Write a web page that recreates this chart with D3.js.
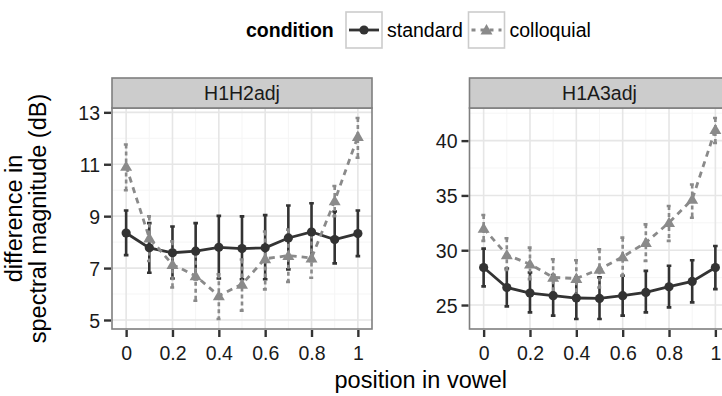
<!DOCTYPE html>
<html>
<head>
<meta charset="utf-8">
<script src="https://cdn.jsdelivr.net/npm/d3@7"></script>
<style>
  body { margin: 0; background: #fff; overflow: hidden; }
  svg { display: block; font-family: "Liberation Sans", Arial, sans-serif; }
</style>
</head>
<body>
<div id="chart"></div>
<script>
// position in vowel
var positions = [0, 0.1, 0.2, 0.3, 0.4, 0.5, 0.6, 0.7, 0.8, 0.9, 1];
var conditions = ['standard', 'colloquial'];
var panels = ['H1H2adj', 'H1A3adj'];

// H1H2adj: mean, lower, upper
var h1h2Standard = [8.35, 7.78, 7.59, 7.65, 7.8, 7.75, 7.78, 8.16, 8.39, 8.1, 8.33];
var h1h2StandardLo = [7.5, 6.82, 6.6, 6.57, 6.6, 6.57, 6.57, 6.95, 7.27, 7.18, 7.46];
var h1h2StandardHi = [9.22, 8.73, 8.6, 8.73, 9.01, 8.99, 9.04, 9.41, 9.5, 9.18, 9.22];
var h1h2Colloquial = [10.92, 8.16, 7.14, 6.7, 5.93, 6.38, 7.36, 7.48, 7.39, 9.59, 12.07];
var h1h2ColloquialLo = [10.0, 7.27, 6.25, 5.74, 5.04, 5.36, 6.18, 6.47, 6.63, 9.0, 11.25];
var h1h2ColloquialHi = [11.76, 8.99, 8.03, 7.55, 6.76, 7.33, 8.41, 8.48, 8.29, 10.16, 12.78];

// H1A3adj: mean, lower, upper
var h1a3Standard = [28.42, 26.6, 26.09, 25.85, 25.64, 25.6, 25.85, 26.15, 26.67, 27.15, 28.42];
var h1a3StandardLo = [26.7, 24.88, 24.33, 24.03, 23.73, 23.73, 24.03, 24.33, 24.79, 25.24, 26.45];
var h1a3StandardHi = [30.15, 28.33, 27.97, 27.73, 27.52, 27.52, 27.67, 28.12, 28.58, 29.09, 30.39];
var h1a3Colloquial = [32.0, 29.58, 28.73, 27.52, 27.42, 28.27, 29.39, 30.7, 32.52, 34.64, 41.0];
var h1a3ColloquialLo = [30.85, 28.21, 27.36, 26.15, 26.0, 26.6, 27.67, 29.03, 30.85, 32.97, 39.79];
var h1a3ColloquialHi = [33.21, 31.09, 30.24, 29.18, 29.09, 30.09, 31.15, 32.36, 34.03, 36.0, 42.06];

var xTicks = [0, 0.2, 0.4, 0.6, 0.8, 1];
var xTickLabels = ['0', '0.2', '0.4', '0.6', '0.8', '1'];
var yTicksH1H2 = [5, 7, 9, 11, 13];
var yTicksH1A3 = [25, 30, 35, 40];

function rows(mean, lo, hi) {
    return positions.map(function(p, i) { return {x: p, y: mean[i], lo: lo[i], hi: hi[i]}; });
}

var panelData = [
    {name: panels[0], ticks: yTicksH1H2, series: [
        {cond: conditions[0], values: rows(h1h2Standard, h1h2StandardLo, h1h2StandardHi)},
        {cond: conditions[1], values: rows(h1h2Colloquial, h1h2ColloquialLo, h1h2ColloquialHi)}]},
    {name: panels[1], ticks: yTicksH1A3, series: [
        {cond: conditions[0], values: rows(h1a3Standard, h1a3StandardLo, h1a3StandardHi)},
        {cond: conditions[1], values: rows(h1a3Colloquial, h1a3ColloquialLo, h1a3ColloquialHi)}]}
];

var W = 722, H = 396;
var panelTop = 108, panelBottom = 329, stripH = 30, panelW = 260;
var panelLefts = [112, 469.5];
var capW = 0.02;

var color = d3.scaleOrdinal().domain(conditions).range(['#333333', '#8a8a8a']);
var dash = d3.scaleOrdinal().domain(conditions).range([null, '6,5']);
var barDash = d3.scaleOrdinal().domain(conditions).range([null, '4,3']);

var svg = d3.select('#chart').append('svg')
    .attr('width', W)
    .attr('height', H);

// x range padded by the error bar caps, then expanded 5% (ggplot style)
var x = d3.scaleLinear().domain([-capW / 2, 1 + capW / 2]);
var xd = x.domain(), xr = xd[1] - xd[0];
x.domain([xd[0] - 0.05 * xr, xd[1] + 0.05 * xr]).range([0, panelW]);

var ph = panelBottom - panelTop;
var tri = d3.symbol().type(d3.symbolTriangle).size(62);

panelData.forEach(function(pd, k) {
    var all = [];
    pd.series.forEach(function(s) { s.values.forEach(function(d) { all.push(d.lo, d.hi); }); });
    var ext = d3.extent(all), r = ext[1] - ext[0];
    var y = d3.scaleLinear().domain([ext[0] - 0.05 * r, ext[1] + 0.05 * r]).range([ph, 0]);

    var g = svg.append('g')
        .attr('transform', 'translate(' + panelLefts[k] + ',' + panelTop + ')');

    // grid, minor then major
    var yMinor = [];
    var step = pd.ticks[1] - pd.ticks[0];
    for (var i = 0; i <= pd.ticks.length; i++) {
        var v = pd.ticks[0] + (i - 0.5) * step;
        if (v > y.domain()[0] && v < y.domain()[1]) yMinor.push(v);
    }
    var xMinor = [0.1, 0.3, 0.5, 0.7, 0.9];

    g.append('rect').attr('width', panelW).attr('height', ph).attr('fill', '#fff');

    g.selectAll('.minor-y').data(yMinor).enter().append('line')
        .attr('x1', 0).attr('x2', panelW)
        .attr('y1', y).attr('y2', y)
        .attr('stroke', '#f5f5f5').attr('stroke-width', 1);
    g.selectAll('.minor-x').data(xMinor).enter().append('line')
        .attr('y1', 0).attr('y2', ph)
        .attr('x1', x).attr('x2', x)
        .attr('stroke', '#f5f5f5').attr('stroke-width', 1);
    g.selectAll('.major-y').data(pd.ticks).enter().append('line')
        .attr('x1', 0).attr('x2', panelW)
        .attr('y1', y).attr('y2', y)
        .attr('stroke', '#e6e6e6').attr('stroke-width', 1.6);
    g.selectAll('.major-x').data(xTicks).enter().append('line')
        .attr('y1', 0).attr('y2', ph)
        .attr('x1', x).attr('x2', x)
        .attr('stroke', '#e6e6e6').attr('stroke-width', 1.6);

    // error bars
    pd.series.forEach(function(s) {
        var eb = g.append('g')
            .attr('stroke', color(s.cond))
            .attr('stroke-width', 2.6)
            .attr('stroke-dasharray', barDash(s.cond))
            .attr('fill', 'none');
        eb.selectAll('path').data(s.values).enter().append('path')
            .attr('d', function(d) {
                var x0 = x(d.x - capW / 2), x1 = x(d.x + capW / 2), xc = x(d.x);
                return 'M' + x0 + ',' + y(d.hi) + 'H' + x1 +
                    'M' + xc + ',' + y(d.hi) + 'V' + y(d.lo) +
                    'M' + x0 + ',' + y(d.lo) + 'H' + x1;
            });
    });

    // lines
    var line = d3.line().x(function(d) { return x(d.x); }).y(function(d) { return y(d.y); });
    pd.series.forEach(function(s) {
        g.append('path')
            .datum(s.values)
            .attr('d', line)
            .attr('fill', 'none')
            .attr('stroke', color(s.cond))
            .attr('stroke-width', 2.8)
            .attr('stroke-dasharray', dash(s.cond));
    });

    // points
    pd.series.forEach(function(s) {
        if (s.cond === 'standard') {
            g.selectAll('.pt-std').data(s.values).enter().append('circle')
                .attr('cx', function(d) { return x(d.x); })
                .attr('cy', function(d) { return y(d.y); })
                .attr('r', 4.6)
                .attr('fill', color(s.cond));
        } else {
            g.selectAll('.pt-col').data(s.values).enter().append('path')
                .attr('transform', function(d) { return 'translate(' + x(d.x) + ',' + (y(d.y) + 1) + ')'; })
                .attr('d', tri)
                .attr('fill', color(s.cond));
        }
    });

    // panel border
    g.append('rect').attr('width', panelW).attr('height', ph)
        .attr('fill', 'none').attr('stroke', '#7f7f7f').attr('stroke-width', 1.6);

    // strip
    g.append('rect').attr('y', -stripH).attr('width', panelW).attr('height', stripH)
        .attr('fill', '#cccccc').attr('stroke', '#7f7f7f').attr('stroke-width', 1.6);
    g.append('text')
        .attr('x', panelW / 2).attr('y', -stripH / 2 + 7)
        .attr('text-anchor', 'middle')
        .attr('font-size', 19.5)
        .attr('fill', '#1a1a1a')
        .text(pd.name);

    // axes
    var yAxis = d3.axisLeft(y).tickValues(pd.ticks).tickSize(7).tickPadding(5);
    var ya = g.append('g').call(yAxis);
    ya.select('.domain').remove();
    ya.selectAll('line').attr('stroke', '#333').attr('stroke-width', 2.4).attr('transform', 'translate(-1,0)');
    ya.selectAll('text').attr('font-size', 19.5).attr('font-family', null).attr('fill', '#1a1a1a')
        .attr('dy', '0.36em');

    var xAxis = d3.axisBottom(x).tickValues(xTicks)
        .tickFormat(function(d, i) { return xTickLabels[i]; })
        .tickSize(7).tickPadding(5);
    var xa = g.append('g').attr('transform', 'translate(0,' + ph + ')').call(xAxis);
    xa.select('.domain').remove();
    xa.selectAll('line').attr('stroke', '#333').attr('stroke-width', 2.4).attr('transform', 'translate(0,1)');
    xa.selectAll('text').attr('font-size', 19.5).attr('font-family', null).attr('fill', '#1a1a1a')
        .attr('dy', '0.71em').attr('y', 17);
});

// axis titles
svg.append('text')
    .attr('x', (panelLefts[0] + panelLefts[1] + panelW) / 2)
    .attr('y', 388)
    .attr('text-anchor', 'middle')
    .attr('font-size', 23.5)
    .attr('fill', '#000')
    .text('position in vowel');

// rotated -90: local y becomes screen x
var yt = svg.append('text')
    .attr('transform', 'translate(0,' + ((panelTop + panelBottom) / 2) + ') rotate(-90)')
    .attr('text-anchor', 'middle')
    .attr('font-size', 23.5)
    .attr('fill', '#000');
yt.append('tspan').attr('x', 0).attr('y', 22).text('difference in');
yt.append('tspan').attr('x', 0).attr('y', 46).text('spectral magnitude (dB)');

// legend
var lg = svg.append('g');
lg.append('text')
    .attr('x', 246).attr('y', 37)
    .attr('font-size', 19.5)
    .attr('font-weight', 'bold')
    .text('condition');

var keyX = [346, 468.5], keyS = 36, keyY = 12;
conditions.forEach(function(c, i) {
    var kg = lg.append('g').attr('transform', 'translate(' + keyX[i] + ',' + keyY + ')');
    kg.append('rect').attr('width', keyS).attr('height', keyS)
        .attr('fill', '#fff').attr('stroke', '#cccccc').attr('stroke-width', 1.6);
    kg.append('line')
        .attr('x1', 3).attr('x2', keyS - 3)
        .attr('y1', keyS / 2).attr('y2', keyS / 2)
        .attr('stroke', color(c)).attr('stroke-width', 2.8)
        .attr('stroke-dasharray', c === 'colloquial' ? '4,5' : null);
    if (c === 'standard') {
        kg.append('circle').attr('cx', keyS / 2).attr('cy', keyS / 2).attr('r', 4.6).attr('fill', color(c));
    } else {
        kg.append('path').attr('transform', 'translate(' + keyS / 2 + ',' + (keyS / 2 + 1) + ')')
            .attr('d', tri).attr('fill', color(c));
    }
    lg.append('text')
        .attr('x', keyX[i] + keyS + 5).attr('y', 37)
        .attr('font-size', 19.5)
        .text(c);
});
</script>
</body>
</html>
